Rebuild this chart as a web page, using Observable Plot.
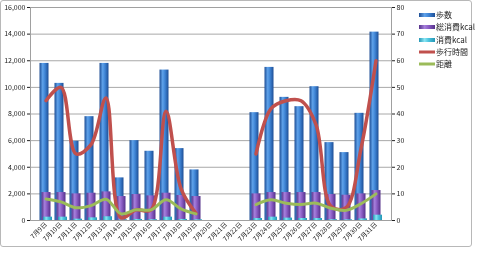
<!DOCTYPE html>
<html><head><meta charset="utf-8">
<script src="https://cdn.jsdelivr.net/npm/d3@7"></script>
<script src="https://cdn.jsdelivr.net/npm/@observablehq/plot@0.6"></script>
<style>
body{margin:0;background:#fff;}
#wrap{position:relative;width:480px;height:254px;font-family:"Noto Sans CJK JP",sans-serif;}
#chart svg{will-change:transform;}
#frame{position:absolute;left:0;top:0;width:470px;height:245px;border:1px solid #b8b8b8;border-radius:3px;pointer-events:none;}
#legend{position:absolute;left:419px;top:9px;font-size:8px;color:#222;line-height:1;}
.row{display:flex;align-items:center;height:12.3px;}
.sw{width:16px;margin-right:1px;}
</style>
</head><body>
<div id="wrap"><div id="chart"></div><div id="frame"></div><div id="legend"></div></div>
<script>
const dates = ["7月9日","7月10日","7月11日","7月12日","7月13日","7月14日","7月15日","7月16日","7月17日","7月18日","7月19日","7月20日","7月21日","7月22日","7月23日","7月24日","7月25日","7月26日","7月27日","7月28日","7月29日","7月30日","7月31日"];
const steps = [11800,10300,5950,7800,11800,3200,6000,5200,11300,5400,3800,null,null,null,8100,11500,9250,8550,10050,5850,5100,8050,14150];
const totalKcal = [2100,2100,2000,2050,2150,1800,1950,1850,2050,1880,1800,null,null,null,2000,2100,2100,2100,2100,1950,1900,2000,2250];
const kcal = [250,250,100,200,280,50,80,60,250,80,50,null,null,null,150,250,180,150,150,60,50,120,400];
const walkTime = [45,50,25,28.5,46,1,4,4,41,12,2.7,null,null,null,25,42,45,45,36,5.3,4.8,27,60];
const distance = [8.1,7,4.8,5.6,8,2.5,4,4,7.8,4.4,2.5,null,null,null,6,7.8,6.5,6,6.5,4.6,3.8,6.3,10];
const leftTicks = [0,2000,4000,6000,8000,10000,12000,14000,16000];
const rightMax = 80;
const seriesNames = ["歩数","総消費kcal","消費kcal","歩行時間","距離"];

const K = 16000 / rightMax;
const data = dates.map((d,i)=>({date:d, steps:steps[i], total:totalKcal[i], kcal:kcal[i], walk:walkTime[i], dist:distance[i]}));
const has = data.filter(d=>d.steps!=null);

const plot = Plot.plot({
  width:480, height:254,
  marginLeft:30, marginRight:89, marginTop:7, marginBottom:34,
  style:{fontFamily:'"Noto Sans CJK JP",sans-serif', fontSize:"7px", color:"#222", background:"transparent"},
  x:{domain:dates, type:"band", paddingInner:0.4, paddingOuter:0.2, axis:null},
  y:{domain:[0,16000], axis:null},
  marks:[
    Plot.gridY(leftTicks,{stroke:"#a8a8a8", strokeOpacity:1}),
    Plot.barY(has,{x:"date", y:"steps", fill:"url(#gBlue)", dx:-1.5}),
    Plot.barY(has,{x:"date", y:"total", fill:"url(#gPurple)", dx:0.5}),
    Plot.barY(has,{x:"date", y:"kcal", fill:"url(#gCyan)", dx:2}),
    Plot.line(data,{x:"date", y:d=>d.walk==null?NaN:d.walk*K, stroke:"#c0504d", strokeWidth:3.5, curve:"catmull-rom"}),
    Plot.line(data,{x:"date", y:d=>d.dist==null?NaN:d.dist*K, stroke:"#9bbb59", strokeWidth:3, curve:"catmull-rom"}),
    Plot.frame({stroke:"#a0a0a0"}),
    Plot.axisY({ticks:leftTicks, tickFormat:d3.format(","), anchor:"left", tickSize:3, tickPadding:2, label:null, fill:"#222"}),
    Plot.axisY({ticks:leftTicks, tickFormat:d=>d/K, anchor:"right", tickSize:3, tickPadding:2, label:null, fill:"#222"}),
    Plot.axisX({tickRotate:-45, tickSize:0, tickPadding:3, label:null, fontSize:6.5, fill:"#222"})
  ]
});
document.getElementById("chart").appendChild(plot);

const svg = d3.select(plot);
const defs = svg.insert("defs",":first-child");
function grad(id, edge, mid, light){
  const g = defs.append("linearGradient").attr("id",id).attr("x1","0").attr("x2","1").attr("y1","0").attr("y2","0");
  g.append("stop").attr("offset","0").attr("stop-color",edge);
  g.append("stop").attr("offset","0.35").attr("stop-color",light);
  g.append("stop").attr("offset","0.6").attr("stop-color",mid);
  g.append("stop").attr("offset","1").attr("stop-color",edge);
}
grad("gBlue","#1e4e95","#3f85d6","#5fa2ea");
grad("gPurple","#55328a","#8a5cc4","#a680dc");
grad("gCyan","#2596b5","#4cc4de","#8ae6f4");

const legend = d3.select("#legend");
const sw = [["bar","url(#gBlue)"],["bar","url(#gPurple)"],["bar","url(#gCyan)"],["line","#c0504d"],["line","#9bbb59"]];
seriesNames.forEach((n,i)=>{
  const r = legend.append("div").attr("class","row");
  const s = r.append("svg").attr("class","sw").attr("width",16).attr("height",8);
  if (sw[i][0]==="bar") s.append("rect").attr("x",0).attr("y",2).attr("width",16).attr("height",4).attr("fill",sw[i][1]);
  else s.append("line").attr("x1",0).attr("x2",16).attr("y1",4).attr("y2",4).attr("stroke",sw[i][1]).attr("stroke-width",3);
  r.append("span").text(n);
});
</script>
</body></html>
